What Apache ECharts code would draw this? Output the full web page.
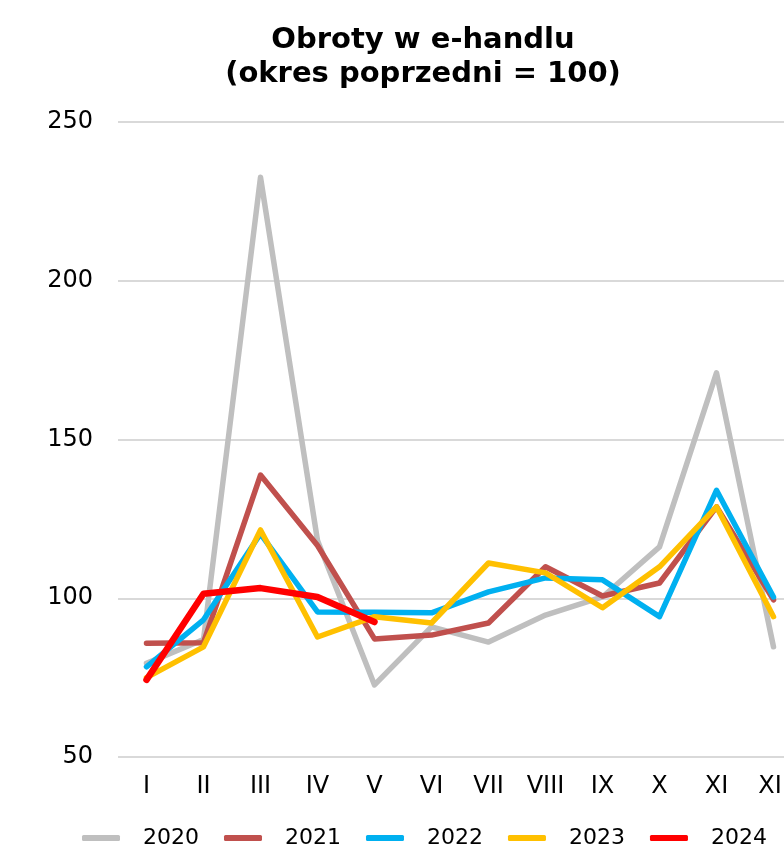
<!DOCTYPE html>
<html>
<head>
<meta charset="utf-8">
<script src="https://cdn.jsdelivr.net/npm/echarts@6/dist/echarts.min.js"></script>
<style>
  html, body { margin: 0; padding: 0; background: #fff; overflow: hidden; }
  #chart { width: 846px; height: 854px; }
</style>
</head>
<body>
<div id="chart"></div>
<script>
// miesiące
const months = ['I', 'II', 'III', 'IV', 'V', 'VI', 'VII', 'VIII', 'IX', 'X', 'XI', 'XII'];

// okres poprzedni = 100
const y2020 = [79.5, 87, 232.6, 118.2, 72.7, 91, 86.2, 94.7, 100.4, 116.2, 171, 84.7];
const y2021 = [85.8, 86, 138.8, 116.6, 87.2, 88.4, 92.2, 109.9, 100.7, 104.8, 128.8, 99.5];
const y2022 = [78.4, 93.2, 120.3, 95.7, 95.6, 95.4, 102, 106.4, 105.8, 94.2, 134, 100.4];
const y2023 = [75, 84.7, 121.5, 87.8, 94.2, 92.2, 111.1, 108, 97, 109.9, 128.8, 94.2];
const y2024 = [74.3, 101.4, 103.2, 100.4, 92.5];

const yTicks = [50, 100, 150, 200, 250];

const font = '"DejaVu Sans", Verdana, sans-serif';

// wykres jest szerszy niż okno, prawa krawędź jest ucięta jak w oryginale
const chart = echarts.init(document.getElementById('chart'));

const mkLine = (name, data, color, width) => ({
  name: name,
  type: 'line',
  data: data,
  symbol: 'none',
  color: color,
  lineStyle: { color: color, width: width, cap: 'round', join: 'round' }
});

chart.setOption({
  animation: false,
  title: {
    text: 'Obroty w e-handlu\n(okres poprzedni = 100)',
    left: 'center',
    top: 18,
    textStyle: {
      fontFamily: font,
      fontWeight: 'bold',
      fontSize: 29,
      lineHeight: 34,
      color: '#000'
    }
  },
  grid: {
    left: 118,
    right: 44,
    top: 122,
    bottom: 97
  },
  legend: {
    top: 822,
    left: 77,
    icon: 'roundRect',
    itemWidth: 38,
    itemHeight: 6,
    itemGap: 25,
    textStyle: {
      fontFamily: font,
      fontSize: 22,
      color: '#000',
      padding: [0, 0, 0, 18]
    },
    data: ['2020', '2021', '2022', '2023', '2024']
  },
  xAxis: {
    type: 'category',
    data: months,
    boundaryGap: true,
    axisLine: { show: false },
    axisTick: { show: false },
    axisLabel: {
      fontFamily: font,
      fontSize: 24,
      color: '#000',
      margin: 18,
      interval: 0
    }
  },
  yAxis: {
    type: 'value',
    min: yTicks[0],
    max: yTicks[yTicks.length - 1],
    interval: 50,
    axisLine: { show: false },
    axisTick: { show: false },
    axisLabel: {
      fontFamily: font,
      fontSize: 24,
      color: '#000',
      margin: 25
    },
    splitLine: { lineStyle: { color: '#d9d9d9', width: 2 } }
  },
  series: [
    mkLine('2020', y2020, '#BFBFBF', 5.5),
    mkLine('2021', y2021, '#C0504D', 5.5),
    mkLine('2022', y2022, '#00B0F0', 5.5),
    mkLine('2023', y2023, '#FFC000', 5.5),
    mkLine('2024', y2024, '#FF0000', 6.5)
  ]
});
</script>
</body>
</html>
